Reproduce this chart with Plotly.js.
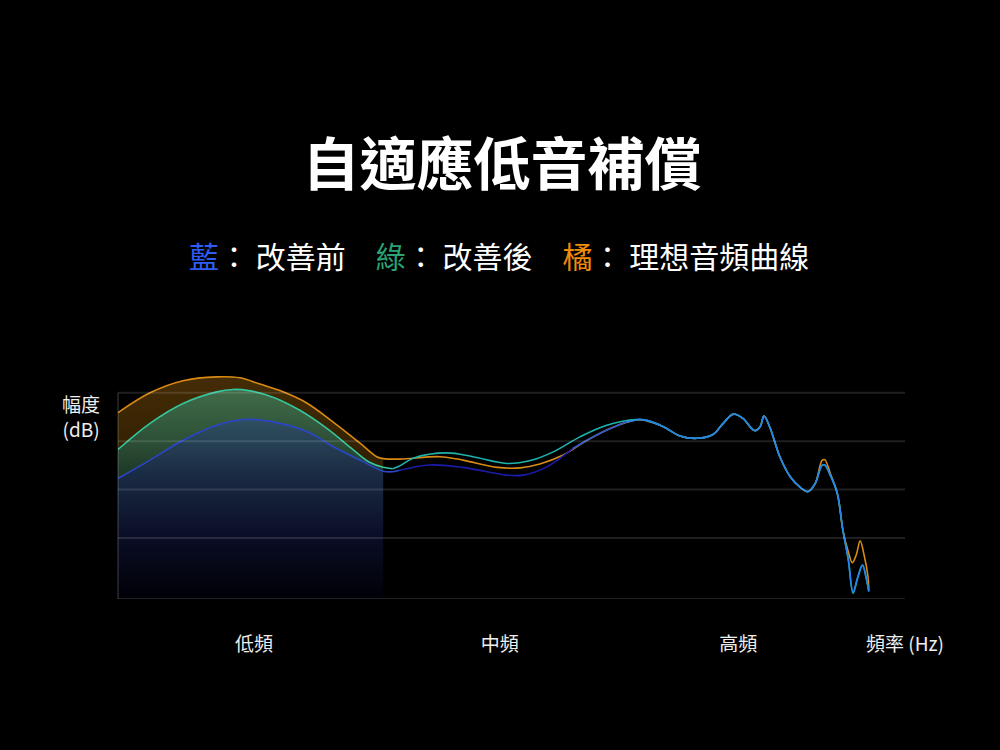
<!DOCTYPE html>
<html>
<head>
<meta charset="utf-8">
<script src="https://cdn.plot.ly/plotly-3.0.1.min.js"></script>
<style>
  html, body { margin: 0; padding: 0; background: #000; }
  #chart { width: 1000px; height: 750px; }
</style>
</head>
<body>
<div id="chart"></div>
<script>
/* ===== data (x: relative position on freq axis, y: dB) ===== */
const blueX = [0, 4.07, 8.26, 12.54, 15.9, 19.7, 23.98, 27.3, 30.75, 33.7, 34.9, 35.8, 39.6, 43.8, 49.4, 51.5, 54.5, 57.8, 61.2, 64.7, 66.3, 67.2, 69.3, 71.4, 73.6, 75.6, 76.9, 78.2, 79.4, 80.9, 81.6, 82.08, 82.8, 84.1, 85.4, 86.66, 87.7, 88.6, 89.45, 89.8, 90.5, 91.4, 92.1, 92.8, 93.4, 94.0, 94.6, 95.1, 95.4];
const blueY = [12.3, 16.1, 20.2, 23.3, 24.5, 24.0, 22.0, 18.9, 16.1, 13.8, 13.7, 14.0, 15.1, 14.6, 13.0, 13.0, 14.7, 18.5, 21.6, 24.0, 24.5, 24.3, 23.0, 21.1, 20.6, 21.4, 23.7, 25.6, 24.7, 22.2, 23.0, 25.2, 23.0, 16.8, 12.7, 10.5, 9.6, 11.3, 15.0, 15.1, 13.0, 9.2, 1.7, -4.5, -11.2, -8.0, -5.6, -8.5, -11.0];

const greenX = [0, 4.07, 8.26, 12.54, 14.6, 16.8, 19.7, 23.1, 26.5, 29.9, 31.9, 33.7, 34.9, 35.8, 37.5, 41.8, 45.1, 49.4, 52.4, 55.3, 58.7, 62.1, 65.9, 67.2, 69.3, 71.4, 73.6, 75.6, 76.9, 78.2, 79.4, 80.9, 81.6, 82.08, 82.8, 84.1, 85.4, 86.66, 87.7, 88.6, 89.45, 89.8, 90.5, 91.4, 92.1, 92.8, 93.4, 94.0, 94.6, 95.1, 95.4];
const greenY = [18.3, 23.7, 27.8, 30.2, 30.7, 30.4, 29.1, 26.4, 22.7, 18.2, 15.7, 14.6, 14.3, 14.9, 16.5, 17.6, 16.8, 15.4, 16.0, 17.8, 20.9, 23.3, 24.5, 24.3, 23.0, 21.1, 20.6, 21.4, 23.7, 25.6, 24.7, 22.2, 23.0, 25.2, 23.0, 16.8, 12.7, 10.5, 9.6, 11.3, 15.0, 15.1, 13.0, 9.2, 1.7, -4.5, -11.4, -8.2, -5.6, -8.5, -11.1];

const orangeX = [0, 4.07, 8.26, 12.54, 15.5, 18.04, 20.97, 23.98, 27.3, 30.75, 32.87, 33.7, 35.83, 40.9, 43.8, 48.2, 51.1, 53.6, 56.5, 59.6, 62.9, 65.9, 67.2, 69.3, 71.4, 73.6, 75.6, 76.9, 78.2, 79.4, 80.9, 81.6, 82.08, 82.8, 84.1, 85.4, 86.66, 87.7, 88.6, 89.45, 89.8, 90.5, 91.4, 92.1, 92.8, 93.3, 93.8, 94.3, 94.8, 95.3, 95.4];
const orangeY = [25.9, 30.0, 32.5, 33.3, 33.1, 31.8, 30.2, 27.9, 24.0, 19.6, 16.8, 16.4, 16.3, 16.8, 16.1, 14.6, 14.5, 15.3, 17.1, 20.2, 22.9, 24.4, 24.2, 23.0, 21.1, 20.6, 21.4, 23.7, 25.6, 24.7, 22.2, 23.0, 25.2, 23.0, 16.8, 12.7, 10.5, 9.6, 11.3, 16.0, 16.2, 13.4, 9.2, 1.7, -2.9, -5.1, -3.5, -0.6, -3.5, -8.0, -10.7];

const tickVals = [17.28, 48.5, 78.8, 100];
const tickText = ["低頻", "中頻", "高頻", "頻率 (Hz)"];
const gridVals = [0, 10, 20, 30];

const yMin = -12.6;
const yMax = 37.4;
const fillEnd = 33.7; // fills only under the low band

/* ===== helpers ===== */
function slice(xs, ys, from, to) {
  const ox = [], oy = [];
  xs.forEach((x, i) => {
    if (x >= from && x <= to) { ox.push(x); oy.push(ys[i]); }
  });
  return { x: ox, y: oy };
}

function lineSeg(xs, ys, from, to, color) {
  const s = slice(xs, ys, from, to);
  return {
    x: s.x, y: s.y, mode: "lines", type: "scatter",
    line: { color: color, width: 1.6, shape: "spline", smoothing: 1 },
    hoverinfo: "skip", showlegend: false
  };
}

const FONT = '"Noto Sans CJK TC", "Noto Sans", sans-serif';

/* ===== fills (stacked with tonexty) ===== */
const bLow = slice(blueX, blueY, 0, fillEnd);
const gLow = slice(greenX, greenY, 0, fillEnd);
const oLow = slice(orangeX, orangeY, 0, fillEnd);

const traces = [
  {
    x: [0, fillEnd], y: [yMin, yMin], mode: "lines", type: "scatter",
    line: { width: 0 }, hoverinfo: "skip", showlegend: false
  },
  {
    x: bLow.x, y: bLow.y, mode: "lines", type: "scatter", fill: "tonexty",
    line: { width: 0, shape: "spline", smoothing: 1 },
    fillcolor: "rgba(45,78,94,0.9)",
    fillgradient: {
      type: "vertical", start: yMin, stop: 24.5,
      colorscale: [[0, "rgba(0,0,6,1)"], [0.35, "rgba(10,14,38,1)"], [0.7, "rgba(26,44,68,1)"], [1, "rgba(47,80,96,1)"]]
    },
    hoverinfo: "skip", showlegend: false
  },
  {
    x: gLow.x, y: gLow.y, mode: "lines", type: "scatter", fill: "tonexty",
    line: { width: 0, shape: "spline", smoothing: 1 },
    fillcolor: "rgba(58,98,66,1)",
    fillgradient: {
      type: "vertical", start: 12, stop: 31,
      colorscale: [[0, "rgba(28,52,38,1)"], [0.5, "rgba(48,84,58,1)"], [1, "rgba(64,108,72,1)"]]
    },
    hoverinfo: "skip", showlegend: false
  },
  {
    x: oLow.x, y: oLow.y, mode: "lines", type: "scatter", fill: "tonexty",
    line: { width: 0, shape: "spline", smoothing: 1 },
    fillcolor: "rgba(60,38,4,1)",
    fillgradient: {
      type: "vertical", start: 16, stop: 33.5,
      colorscale: [[0, "rgba(50,32,2,1)"], [1, "rgba(68,44,6,1)"]]
    },
    hoverinfo: "skip", showlegend: false
  },
  /* ===== lines ===== */
  lineSeg(orangeX, orangeY, 0, 100, "#d98a14"),
  lineSeg(greenX, greenY, 0, 34.9, "#35c69e"),
  lineSeg(greenX, greenY, 34.9, 100, "#1db4ae"),
  lineSeg(blueX, blueY, 0, 35.8, "#2b45cc"),
  lineSeg(blueX, blueY, 35.8, 57.8, "#1c1caa"),
  lineSeg(blueX, blueY, 57.8, 64.7, "#2a5ad8"),
  lineSeg(blueX, blueY, 64.7, 100, "#2384ee")
];

/* ===== grid & frame lines on top of fills ===== */
const shapes = gridVals.map((v) => ({
  type: "line", xref: "paper", yref: "y", x0: 0, x1: 1, y0: v, y1: v,
  line: { color: "rgba(255,255,255,0.12)", width: 2 }, layer: "above"
}));
shapes.push({
  type: "line", xref: "paper", yref: "y", x0: 0, x1: 1, y0: yMin, y1: yMin,
  line: { color: "rgba(255,255,255,0.12)", width: 2 }, layer: "above"
});
shapes.push({
  type: "line", xref: "paper", yref: "y", x0: 0, x1: 0, y0: yMin, y1: gridVals[gridVals.length - 1],
  line: { color: "rgba(255,255,255,0.12)", width: 2 }, layer: "above"
});

const layout = {
  width: 1000, height: 750,
  paper_bgcolor: "#000", plot_bgcolor: "#000",
  margin: { l: 118, r: 95, t: 357, b: 151 },
  font: { family: FONT, color: "#ffffff" },
  title: {
    text: "<b>自適應低音補償</b>",
    font: { family: FONT, size: 57, color: "#ffffff" },
    x: 0.502, xanchor: "center", xref: "container",
    y: 1 - 165 / 750, yanchor: "middle", yref: "container"
  },
  xaxis: {
    range: [0, 100], showgrid: false, zeroline: false, showline: false,
    tickvals: tickVals, ticktext: tickText, ticks: "",
    ticklabelstandoff: 32,
    tickfont: { family: FONT, size: 19, color: "#eeeeee" }
  },
  yaxis: {
    range: [yMin, yMax], showgrid: false, zeroline: false, showline: false,
    showticklabels: false, ticks: ""
  },
  shapes: shapes,
  annotations: [
    {
      xref: "paper", yref: "paper", x: (499 - 118) / 787, y: (599 - 255) / 242,
      xanchor: "center", yanchor: "middle", showarrow: false,
      text: '<span style="color:#2f5cf5">藍</span>： 改善前　<span style="color:#2aa374">綠</span>： 改善後　<span style="color:#f08c0a">橘</span>： 理想音頻曲線',
      font: { family: FONT, size: 30, color: "#ffffff" }
    },
    {
      xref: "paper", yref: "paper", x: (81 - 118) / 787, y: (599 - 416) / 242,
      xanchor: "center", yanchor: "middle", showarrow: false, align: "center",
      text: "幅度<br>(dB)",
      font: { family: FONT, size: 19, color: "#eeeeee" }
    }
  ]
};

Plotly.newPlot("chart", traces, layout, { staticPlot: true, displayModeBar: false });
</script>
</body>
</html>
